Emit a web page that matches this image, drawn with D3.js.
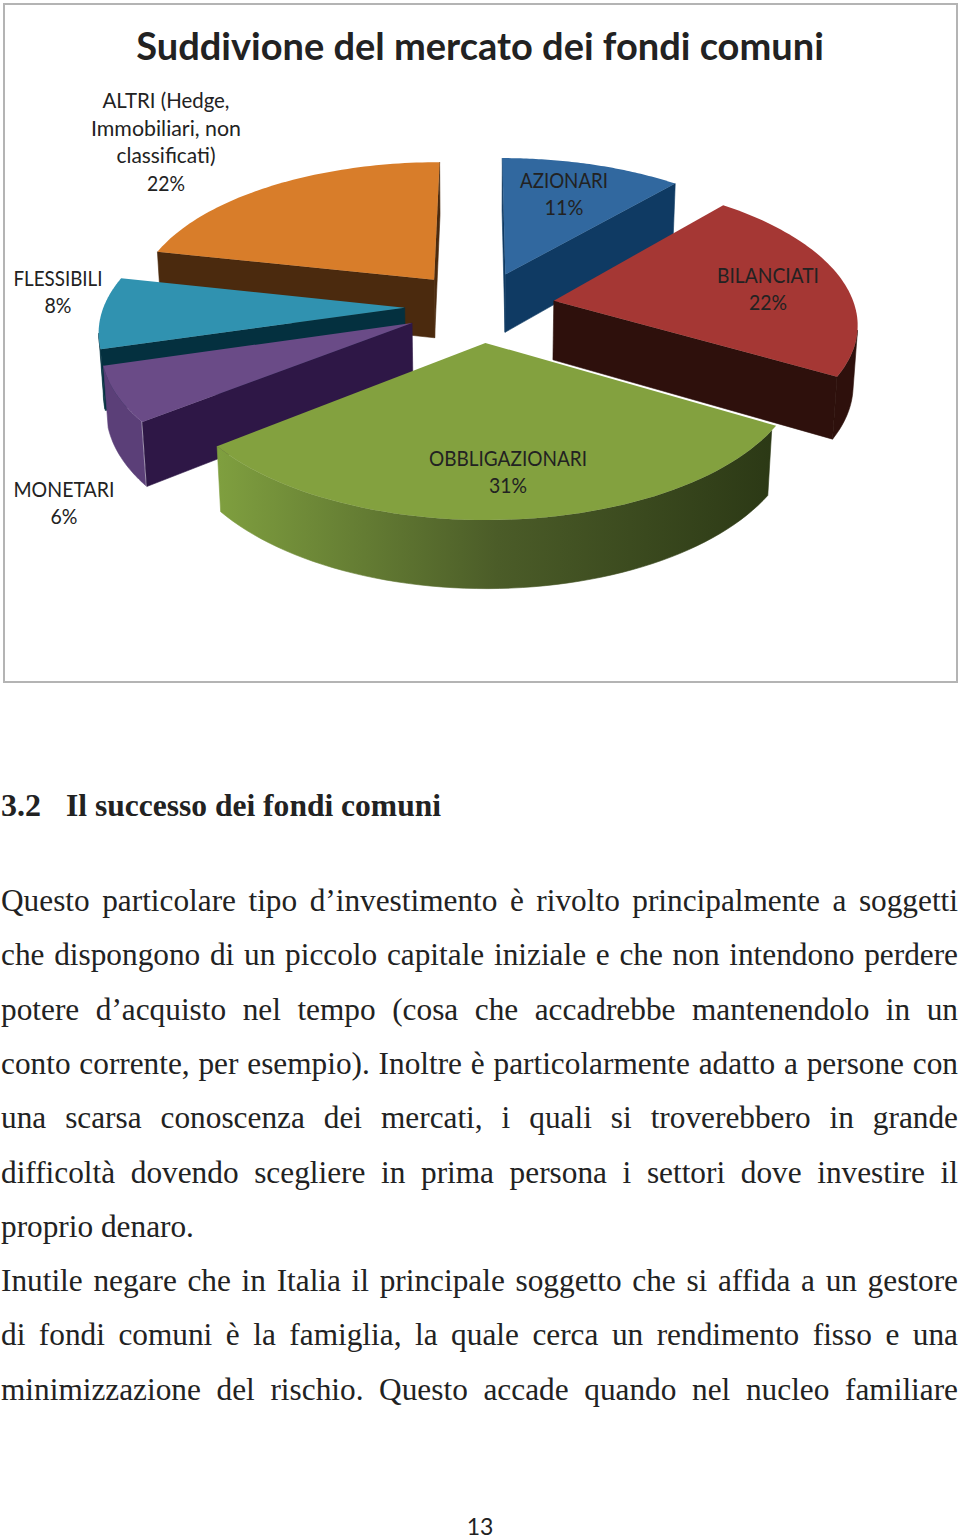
<!DOCTYPE html>
<html>
<head>
<meta charset="utf-8">
<script src="https://cdn.jsdelivr.net/npm/d3@7"></script>
<style>
  html, body { margin: 0; background: #fff; }
  svg { display: block; }
</style>
</head>
<body>
<svg id="page"></svg>
<script>
const categories = ["AZIONARI", "BILANCIATI", "OBBLIGAZIONARI", "MONETARI", "FLESSIBILI", "ALTRI"];
// unrounded shares as read from the slice edges, the labels show them rounded
const shares = [11.3, 22.15, 30.9, 6.1, 8, 21.55];

const topColors = ["#31689f", "#a53734", "#83a13f", "#6a4b87", "#3092b0", "#d87d2a"];
const cutColors = ["#0f3a63", "#2e100c", "#2b3815", "#2e1746", "#04303f", "#4b2a0e"];
const wallColors = ["#0f3a63", "#2e100c", "url(#greenWall)", "#5b3f78", "#04303f", "#4b2a0e"];

const labelLines = [
  ["AZIONARI", "11%"],
  ["BILANCIATI", "22%"],
  ["OBBLIGAZIONARI", "31%"],
  ["MONETARI", "6%"],
  ["FLESSIBILI", "8%"],
  ["ALTRI (Hedge,", "Immobiliari, non", "classificati)", "22%"]
];
const labelWidths = [
  [88, 39],
  [102, 38],
  [158, 38],
  [101, 27],
  [89, 27],
  [127, 150, 99, 38]
];
const labelX = [564, 768, 508, 64, 58, 166];
const labelY = [187.5, 282.5, 465.5, 496.5, 285.5, 108];

const chartTitle = "Suddivione del mercato dei fondi comuni";
const sectionTitle = ["3.2", "Il successo dei fondi comuni"];
const sectionWidths = [40, 375];
const bodyLines = [
  "Questo particolare tipo d’investimento è rivolto principalmente a soggetti",
  "che dispongono di un piccolo capitale iniziale e che non intendono perdere",
  "potere d’acquisto nel tempo (cosa che accadrebbe mantenendolo in un",
  "conto corrente, per esempio). Inoltre è particolarmente adatto a persone con",
  "una scarsa conoscenza dei mercati, i quali si troverebbero in grande",
  "difficoltà dovendo scegliere in prima persona i settori dove investire il",
  "proprio denaro.",
  "Inutile negare che in Italia il principale soggetto che si affida a un gestore",
  "di fondi comuni è la famiglia, la quale cerca un rendimento fisso e una",
  "minimizzazione del rischio. Questo accade quando nel nucleo familiare"
];
const shortLines = ["proprio denaro."];
const pageNumber = "13";

const width = 960;
const height = 1539;

// pie geometry, fitted by eye against the picture
const cx = 480, cy = 306.5;
const radiusX = 301, radiusY = 141, thickness = 60;
const perspective = 0.14, sag = 0.012, explode = 0.25;

const svg = d3.select("#page").attr("width", width).attr("height", height);

const defs = svg.append("defs");
const grad = defs.append("linearGradient")
  .attr("id", "greenWall")
  .attr("gradientUnits", "userSpaceOnUse")
  .attr("x1", 218).attr("x2", 778).attr("y1", 0).attr("y2", 0);
grad.append("stop").attr("offset", "0").attr("stop-color", "#7f9f3f");
grad.append("stop").attr("offset", "0.5").attr("stop-color", "#4b5c28");
grad.append("stop").attr("offset", "1").attr("stop-color", "#2b3815");

svg.append("rect")
  .attr("x", 4).attr("y", 4).attr("width", 953).attr("height", 678)
  .attr("fill", "#fff").attr("stroke", "#b4b4b4").attr("stroke-width", 2);

svg.append("text")
  .attr("x", 480).attr("y", 59.5)
  .attr("text-anchor", "middle")
  .style("font", "bold 38px Lato")
  .attr("fill", "#222")
  .text(chartTitle);

const pie = d3.pie().sort(null);
const slices = pie(shares).map((d, i) => ({ ...d, i }));

// ground position of a rim point, depth is 0 on top and 1 at the bottom
function project(X, Y, depth) {
  const w = 1 + perspective * Y + sag * depth;
  return [cx + radiusX * X / w, cy - radiusY * Y / w + thickness * depth / w];
}

function rimPoint(s, angle, r, depth) {
  const mid = (s.startAngle + s.endAngle) / 2;
  const X = explode * Math.sin(mid) + r * Math.sin(angle);
  const Y = explode * Math.cos(mid) + r * Math.cos(angle);
  return project(X, Y, depth);
}

const outline = d3.line();
const pieLayer = svg.append("g");

slices
  .slice()
  .sort((a, b) =>
    Math.cos((b.startAngle + b.endAngle) / 2) - Math.cos((a.startAngle + a.endAngle) / 2))
  .forEach((s) => {
    const g = pieLayer.append("g");
    const angles = d3.range(0, 61).map((k) => s.startAngle + (s.endAngle - s.startAngle) * k / 60);

    // outer wall, only the samples facing the viewer
    const rim = angles.map((a) => rimPoint(s, a, 1, 0));
    const seen = angles.filter((a, k) => k > 0 && rim[k][0] < rim[k - 1][0]);
    if (seen.length > 1) {
      const upper = seen.map((a) => rimPoint(s, a, 1, 0));
      const lower = seen.map((a) => rimPoint(s, a, 1, 1)).reverse();
      g.append("path")
        .attr("d", outline(upper.concat(lower)) + "Z")
        .attr("fill", wallColors[s.i])
        .attr("stroke", wallColors[s.i])
        .attr("stroke-width", 0.6);
    }

    // cut faces
    [[s.startAngle, -1], [s.endAngle, 1]].forEach(([angle, side]) => {
      const tip = rimPoint(s, angle, 0, 0);
      const end = rimPoint(s, angle, 1, 0);
      if ((end[0] - tip[0]) * side <= 0) return;
      const quad = [tip, end, rimPoint(s, angle, 1, 1), rimPoint(s, angle, 0, 1)];
      g.append("path")
        .attr("d", outline(quad) + "Z")
        .attr("fill", cutColors[s.i])
        .attr("stroke", cutColors[s.i])
        .attr("stroke-width", 0.6);
    });

    const top = [rimPoint(s, 0, 0, 0)].concat(rim);
    g.append("path")
      .attr("d", outline(top) + "Z")
      .attr("fill", topColors[s.i]);
  });

// slice labels
slices.forEach((s) => {
  const t = svg.append("text")
    .attr("text-anchor", "middle")
    .style("font", "21px Lato")
    .attr("fill", "#222");
  labelLines[s.i].forEach((line, k) => {
    t.append("tspan")
      .attr("x", labelX[s.i])
      .attr("y", labelY[s.i] + k * 27.5)
      .attr("textLength", labelWidths[s.i][k])
      .attr("lengthAdjust", "spacingAndGlyphs")
      .text(line);
  });
});

// section heading
const headingFont = "bold 31px 'Liberation Serif'";
svg.append("text").attr("x", 1).attr("y", 816)
  .attr("textLength", sectionWidths[0]).attr("lengthAdjust", "spacingAndGlyphs")
  .style("font", headingFont).attr("fill", "#222").text(sectionTitle[0]);
svg.append("text").attr("x", 66).attr("y", 816)
  .attr("textLength", sectionWidths[1]).attr("lengthAdjust", "spacingAndGlyphs")
  .style("font", headingFont).attr("fill", "#222").text(sectionTitle[1]);

// justified body text
const lineScale = d3.scaleLinear().domain([0, 1]).range([911, 965.3]);
bodyLines.forEach((line, i) => {
  const t = svg.append("text")
    .attr("x", 1)
    .attr("y", lineScale(i))
    .style("font", "31.3px 'Liberation Serif'")
    .attr("fill", "#222")
    .text(line);
  if (!shortLines.includes(line)) {
    const gaps = line.split(" ").length - 1;
    const spare = 957 - t.node().getComputedTextLength();
    t.style("word-spacing", (spare / gaps) + "px");
  }
});

svg.append("text")
  .attr("x", 480).attr("y", 1535)
  .attr("text-anchor", "middle")
  .style("font", "23px Lato")
  .attr("fill", "#222")
  .text(pageNumber);
</script>
</body>
</html>
